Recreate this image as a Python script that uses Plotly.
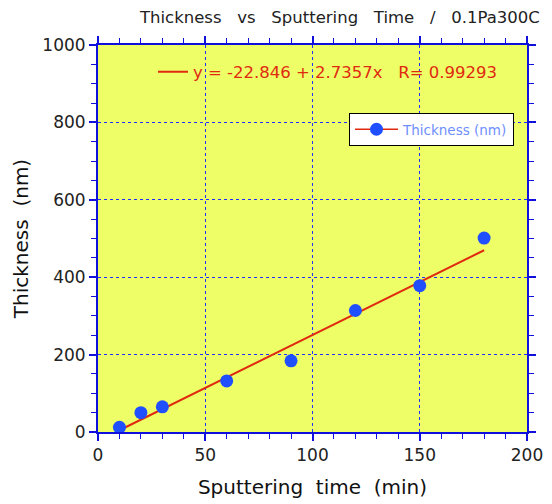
import plotly.graph_objects as go

time_min = [10, 20, 30, 60, 90, 120, 150, 180]
thickness_nm = [12, 50, 65, 132, 184, 314, 378, 501]
fit_intercept = -22.846
fit_slope = 2.7357
fit_r = 0.99293

x_ticks = [0, 50, 100, 150, 200]
y_ticks = [0, 200, 400, 600, 800, 1000]

fit_x = [min(time_min), max(time_min)]
fit_y = [fit_intercept + fit_slope * v for v in fit_x]

NB = "\u00a0"
FONT = "DejaVu Sans"
BLUE_AX = "#1010dd"
GRID = "#2030ff"
RED = "#e02a10"
PT_BLUE = "#1f4fff"

fig = go.Figure()
fig.add_trace(go.Scatter(
    x=fit_x, y=fit_y, mode="lines",
    line=dict(color=RED, width=2),
    name=f"y = {fit_intercept} + {fit_slope}x{NB*3}R= {fit_r}",
    legend="legend2", hoverinfo="skip",
))
fig.add_trace(go.Scatter(
    x=time_min, y=thickness_nm, mode="markers",
    marker=dict(color=PT_BLUE, size=13),
    name="Thickness (nm)", showlegend=False,
))
# legend entry for the data series (red line + blue marker, as in the original legend)
fig.add_trace(go.Scatter(
    x=[None], y=[None], mode="lines+markers",
    marker=dict(color=PT_BLUE, size=13),
    line=dict(color=RED, width=1.5),
    name="Thickness (nm)", legend="legend", showlegend=True,
))

axis_common = dict(
    showline=True, linecolor=BLUE_AX, linewidth=2, mirror="ticks",
    ticks="outside", ticklen=7, tickcolor=BLUE_AX, tickwidth=1.5,
    showgrid=True, gridcolor=GRID, griddash="dot", gridwidth=1,
    zeroline=False, automargin=False,
    tickfont=dict(family=FONT, size=17, color="#222222"),
    minor=dict(ticks="outside", ticklen=5, tickcolor=BLUE_AX, tickwidth=1.2, showgrid=False),
)

fig.update_layout(
    width=552, height=504,
    margin=dict(l=98, r=25, t=45, b=72),
    paper_bgcolor="white", plot_bgcolor="#eefe66",
    font=dict(family=FONT),
    title=dict(
        text=(NB * 3).join(["Thickness", "vs", "Sputtering", "Time", "/", "0.1Pa300C"]),
        x=0.978, xanchor="right", xref="container",
        y=1 - 17 / 504, yanchor="middle", yref="container",
        font=dict(family=FONT, size=16.5, color="#222222"),
    ),
    xaxis=dict(
        **axis_common, range=[0, 200], tickvals=x_ticks,
        title=dict(text=f"Sputtering{NB*2}time{NB*2}(min)", font=dict(family=FONT, size=20, color="#111111"), standoff=16),
    ),
    yaxis=dict(
        **axis_common, range=[0, 1000], tickvals=y_ticks,
        title=dict(text=f"Thickness{NB*2}(nm)", font=dict(family=FONT, size=20, color="#111111"), standoff=8),
    ),
    showlegend=True,
    legend=dict(
        x=(349 - 98) / 429, y=(432 - 113) / 387, xanchor="left", yanchor="top",
        bgcolor="white", bordercolor="black", borderwidth=1,
        itemwidth=43,
        font=dict(family=FONT, size=13.5, color="#6f8fff"),
    ),
    legend2=dict(
        x=(153 - 98) / 429, y=(432 - 72) / 387, xanchor="left", yanchor="middle",
        bgcolor="rgba(0,0,0,0)", borderwidth=0,
        font=dict(family=FONT, size=16.5, color=RED),
    ),
)
fig.write_html("out.html")
